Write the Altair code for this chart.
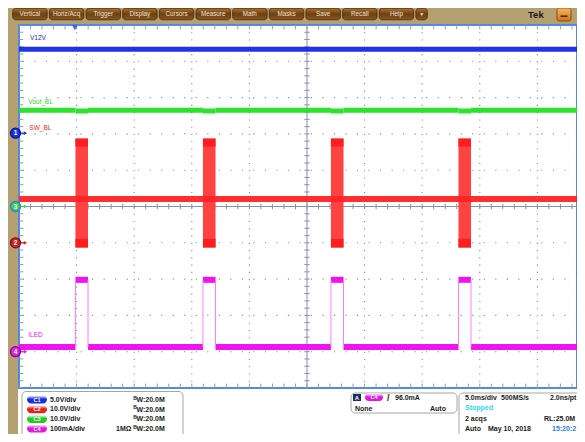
import altair as alt
import pandas as pd

# ---------------- values ----------------
# horizontal: time in ms (5 ms/div), vertical: screen divisions (10 div tall)
pulse_start = [-20.10, -9.03, 2.08, 13.15, 24.05]
pulse_end = [-19.01, -7.94, 3.17, 14.24, 25.10]

v12v_level = 4.33
vout_level = 2.65
vout_dip = 2.632
sw_base = 0.21
sw_high = 1.87
sw_low = -1.13
iled_base = -3.87
iled_high = -2.02

trace_names = ["V12V", "Vout_BL", "SW_BL", "ILED"]
trace_colors = ["#1428e6", "#22e022", "#ff2424", "#f012f0"]
name_x = [-24.05, -24.2, -24.1, -24.2]
name_y = [4.64, 2.88, 2.16, -3.54]

ch_ids = ["1", "3", "2", "4"]
ch_ground = [2.02, 0.0, -1.0, -4.0]
ch_fill = ["#1a32e0", "#3cd23c", "#d82020", "#e020e0"]
ch_ring = ["#0a148a", "#2f7df0", "#6a1a1a", "#801080"]

trigger_ms = [-20.15]

menu_labels = ["Vertical", "Horiz/Acq", "Trigger", "Display", "Cursors", "Measure",
               "Math", "Masks", "Save", "Recall", "Help", "\u25bc"]
ch_tags = ["C1", "C2", "C3", "C4"]
ch_tag_colors = ["#1a2ee0", "#e82020", "#22cc22", "#e018e0"]
ch_scales = ["5.0V/div", "10.0V/div", "10.0V/div", "100mA/div"]
ch_bw = ["W:20.0M", "W:20.0M", "W:20.0M", "W:20.0M"]
ch_imp = ["", "", "", "1M\u03a9"]
trig_texts = ["96.0mA", "None", "Auto"]
acq_texts = ["5.0ms/div", "500MS/s", "2.0ns/pt", "Stopped", "2 acqs", "RL:25.0M",
             "Auto", "May 10, 2018", "15:20:2"]

# ---------------- scales ----------------
FONT = "Liberation Sans"
xs = alt.Scale(domain=[-25, 23.44], nice=False, zero=False)
ys = alt.Scale(domain=[-5, 5], nice=False, zero=False)
OX, OY = 19, 25  # page position of the plot origin


def px(v):
    return v - OX


def py(v):
    return v - OY


one = pd.DataFrame({"k": [0]})


def box(x0, y0, x1, y1, **kw):
    return alt.Chart(one).mark_rect(**kw).encode(
        x=alt.value(px(x0)), x2=alt.value(px(x1)),
        y=alt.value(py(y0)), y2=alt.value(py(y1)))


def label(s, x, y, size=7, color="#1a1a1a", weight="bold", align="left"):
    return alt.Chart(one).mark_text(
        text=s, fontSize=size, color=color, fontWeight=weight, align=align,
        baseline="middle", font=FONT).encode(x=alt.value(px(x)), y=alt.value(py(y)))


def X(f):
    return alt.X(f, type="quantitative", scale=xs, axis=None)


def Y(f):
    return alt.Y(f, type="quantitative", scale=ys, axis=None)


layers = []

# ---------------- graticule ----------------
grid_t = pd.DataFrame({"t": [-20, -15, -10, -5, 5, 10, 15, 20]})
grid_d = pd.DataFrame({"d": [-4, -3, -2, -1, 1, 2, 3, 4]})
layers.append(alt.Chart(grid_t).mark_rule(color="#8a8a8a", strokeWidth=1.1,
                                          strokeDash=[1.1, 6.16]).encode(x=X("t")))
layers.append(alt.Chart(grid_d).mark_rule(color="#8a8a8a", strokeWidth=1.1,
                                          strokeDash=[1.1, 10.42]).encode(y=Y("d")))
layers.append(alt.Chart(pd.DataFrame({"t": [0]})).mark_rule(color="#8890aa", strokeWidth=1).encode(x=X("t")))
layers.append(alt.Chart(pd.DataFrame({"d": [0]})).mark_rule(color="#8890aa", strokeWidth=1).encode(y=Y("d")))

minor_t = [float(v) for v in range(-25, 26)]
minor_d = [round(-5 + 0.2 * i, 2) for i in range(51)]
mt = pd.DataFrame({"t": minor_t})
md = pd.DataFrame({"d": minor_d})
tick_col = "#8890aa"
layers.append(alt.Chart(mt.assign(lo=-0.075, hi=0.075)).mark_rule(color=tick_col, clip=True).encode(
    x=X("t"), y=Y("lo"), y2="hi"))
layers.append(alt.Chart(md.assign(lo=-0.23, hi=0.23)).mark_rule(color=tick_col, clip=True).encode(
    y=Y("d"), x=X("lo"), x2="hi"))
layers.append(alt.Chart(mt.assign(lo=4.88, hi=5.0)).mark_rule(color="#9a9aae", clip=True).encode(
    x=X("t"), y=Y("lo"), y2="hi"))
layers.append(alt.Chart(mt.assign(lo=-5.0, hi=-4.88)).mark_rule(color="#9a9aae", clip=True).encode(
    x=X("t"), y=Y("lo"), y2="hi"))
layers.append(alt.Chart(md.assign(lo=-25.0, hi=-24.62)).mark_rule(color="#9a9aae", clip=True).encode(
    y=Y("d"), x=X("lo"), x2="hi"))

# ---------------- traces ----------------
pulses = pd.DataFrame({"s": pulse_start, "e": pulse_end})
gaps = pd.DataFrame({"s": [-25.0] + pulse_end, "e": pulse_start + [25.0]})

layers.append(alt.Chart(pd.DataFrame({"v": [v12v_level]})).mark_rule(
    color=trace_colors[0], strokeWidth=5, opacity=0.95).encode(y=Y("v")))
layers.append(alt.Chart(gaps.assign(v=vout_level)).mark_rule(
    color=trace_colors[1], strokeWidth=5, opacity=0.95, clip=True).encode(x=X("s"), x2="e", y=Y("v")))
layers.append(alt.Chart(pulses.assign(v=vout_dip)).mark_rule(
    color=trace_colors[1], strokeWidth=5, opacity=0.95, clip=True).encode(x=X("s"), x2="e", y=Y("v")))

# SW_BL switching bursts
layers.append(alt.Chart(pulses.assign(lo=sw_low, hi=sw_high)).mark_rect(
    color="#ff4343", clip=True).encode(x=X("s"), x2="e", y=Y("lo"), y2="hi"))
layers.append(alt.Chart(pulses.assign(lo=sw_high - 0.22, hi=sw_high)).mark_rect(
    color="#ff1e1e", clip=True).encode(x=X("s"), x2="e", y=Y("lo"), y2="hi"))
layers.append(alt.Chart(pulses.assign(lo=sw_low, hi=sw_low + 0.24)).mark_rect(
    color="#ff1e1e", clip=True).encode(x=X("s"), x2="e", y=Y("lo"), y2="hi"))
layers.append(alt.Chart(pd.DataFrame({"v": [sw_base]})).mark_rule(
    color=trace_colors[2], strokeWidth=6, opacity=0.95).encode(y=Y("v")))

# ILED
layers.append(alt.Chart(gaps.assign(v=iled_base)).mark_rule(
    color=trace_colors[3], strokeWidth=6, clip=True).encode(x=X("s"), x2="e", y=Y("v")))
layers.append(alt.Chart(pulses.assign(v=iled_high)).mark_rule(
    color=trace_colors[3], strokeWidth=6, clip=True).encode(x=X("s"), x2="e", y=Y("v")))
edges = pd.DataFrame({"t": pulse_start + pulse_end})
layers.append(alt.Chart(edges.assign(lo=iled_base, hi=iled_high)).mark_rule(
    color="#ff7cff", strokeWidth=1, clip=True).encode(x=X("t"), y=Y("lo"), y2="hi"))

# trace names
names = pd.DataFrame({"n": trace_names, "x": name_x, "y": name_y, "c": trace_colors})
layers.append(alt.Chart(names).mark_text(align="left", baseline="middle", fontSize=6.5,
                                         font=FONT).encode(
    x=X("x"), y=Y("y"), text="n:N", color=alt.Color("c:N", scale=None)))

# trigger position marker
layers.append(alt.Chart(pd.DataFrame({"t": trigger_ms})).mark_point(
    shape="triangle-down", filled=True, size=38, color="#2d6fe0", opacity=1).encode(
    x=X("t"), y=alt.value(py(27.5))))

# ---------------- bottom panel ----------------
layers.append(box(18, 389, 620, 470, color="#ffffff"))
layers.append(box(22, 391.5, 183, 470, fill="#ffffff", stroke="#a6a6a6", strokeWidth=1, cornerRadius=4))
layers.append(box(351, 393, 457, 413, fill="#ffffff", stroke="#a6a6a6", strokeWidth=1, cornerRadius=4))
layers.append(box(459, 393, 620, 470, fill="#ffffff", stroke="#a6a6a6", strokeWidth=1, cornerRadius=4))

row_y = [399.5, 409.2, 418.9, 428.6]
for i in range(4):
    yy = row_y[i]
    grad = alt.Gradient(gradient="linear", x1=0, x2=0, y1=0, y2=1,
                        stops=[alt.GradientStop(color="#ffffff", offset=0),
                               alt.GradientStop(color=ch_tag_colors[i], offset=0.45),
                               alt.GradientStop(color=ch_tag_colors[i], offset=1)])
    layers.append(box(27, yy - 4, 47, yy + 4, fill=grad, cornerRadius=4))
    layers.append(label(ch_tags[i], 37, yy, size=5.5, color="#ffffff", align="center"))
    layers.append(label(ch_scales[i], 50, yy))
    layers.append(label("B", 133.3, yy - 2, size=5))
    layers.append(label(ch_bw[i], 136.5, yy + 0.5))
    if ch_imp[i]:
        layers.append(label(ch_imp[i], 116, yy))

# trigger box
layers.append(box(353, 394, 361, 401, color="#1e2c5c"))
layers.append(label("A", 357, 397.5, size=6, color="#ffffff", align="center"))
grad4 = alt.Gradient(gradient="linear", x1=0, x2=0, y1=0, y2=1,
                     stops=[alt.GradientStop(color="#ffffff", offset=0),
                            alt.GradientStop(color="#e018e0", offset=0.45),
                            alt.GradientStop(color="#e018e0", offset=1)])
layers.append(box(365, 393.5, 383, 401, fill=grad4, cornerRadius=4))
layers.append(label("C4", 374, 397.3, size=5.5, color="#ffffff", align="center"))
layers.append(label("/", 387, 397.5, size=9))
layers.append(label(trig_texts[0], 395, 397.5))
layers.append(label(trig_texts[1], 355, 408.5))
layers.append(label(trig_texts[2], 430, 408.5))

# acquisition box
acq_rows = [398, 408.3, 418.6, 428.6]
layers.append(label(acq_texts[0], 465, acq_rows[0]))
layers.append(label(acq_texts[1], 501, acq_rows[0]))
layers.append(label(acq_texts[2], 550, acq_rows[0]))
layers.append(label(acq_texts[3], 465, acq_rows[1], color="#2adcf0"))
layers.append(label(acq_texts[4], 465, acq_rows[2]))
layers.append(label(acq_texts[5], 544, acq_rows[2]))
layers.append(label(acq_texts[6], 465, acq_rows[3]))
layers.append(label(acq_texts[7], 488, acq_rows[3]))
layers.append(label(acq_texts[8], 552, acq_rows[3], color="#2a80f0"))

# ---------------- menu bar ----------------
btn_grad = alt.Gradient(gradient="linear", x1=0, x2=0, y1=0, y2=1,
                        stops=[alt.GradientStop(color="#a8742e", offset=0),
                               alt.GradientStop(color="#6e3f12", offset=0.5),
                               alt.GradientStop(color="#8a5620", offset=1)])
for i, name in enumerate(menu_labels):
    x0 = 12.7 + 36.65 * i
    w = 34.5 if i < len(menu_labels) - 1 else 11.5
    layers.append(box(x0, 8.3, x0 + w, 19.8, fill=btn_grad, stroke="#4a2a0a",
                      strokeWidth=0.8, cornerRadius=3))
    layers.append(label(name, x0 + w / 2, 14.2, size=6.3 if i < len(menu_labels) - 1 else 5,
                        color="#efe4d0", weight="normal", align="center"))
layers.append(label("Tek", 528, 14.5, size=9.5, color="#1a1a1a"))
org_grad = alt.Gradient(gradient="linear", x1=0, x2=0, y1=0, y2=1,
                        stops=[alt.GradientStop(color="#f6b860", offset=0),
                               alt.GradientStop(color="#d27018", offset=1)])
layers.append(box(557, 8, 571, 21, fill=org_grad, stroke="#7a4010", strokeWidth=0.8, cornerRadius=2))
layers.append(box(560.5, 15.5, 567.5, 16.8, color="#2a1a08"))

# ---------------- channel ground markers ----------------
marks = pd.DataFrame({"id": ch_ids, "g": ch_ground, "f": ch_fill, "r": ch_ring})
layers.append(alt.Chart(marks).mark_rule(strokeWidth=1.2).encode(
    x=alt.value(px(20)), x2=alt.value(px(25)), y=Y("g"), color=alt.Color("f:N", scale=None)))
layers.append(alt.Chart(marks).mark_point(shape="triangle-right", filled=True, size=14, opacity=1).encode(
    x=alt.value(px(25.5)), y=Y("g"), color=alt.Color("f:N", scale=None)))
layers.append(alt.Chart(marks).mark_point(shape="circle", filled=True, size=100, opacity=1,
                                          strokeWidth=1.3).encode(
    x=alt.value(px(15.5)), y=Y("g"), fill=alt.Fill("f:N", scale=None),
    stroke=alt.Stroke("r:N", scale=None)))
layers.append(alt.Chart(marks).mark_text(fontSize=6.5, fontWeight="bold", color="#ffffff",
                                         font=FONT, baseline="middle").encode(
    x=alt.value(px(15.5)), y=Y("g"), text="id:N"))

chart = alt.layer(*layers).properties(
    width=558, height=363,
    padding={"left": 11, "top": 17, "right": 0, "bottom": 46},
    autosize=alt.AutoSizeParams(type="none"),
    background="#b5a071",
).configure_view(fill="#ffffff", stroke="#4f8be3", strokeWidth=2)

chart.save("out.html", embed_options={"renderer": "svg", "actions": False})
